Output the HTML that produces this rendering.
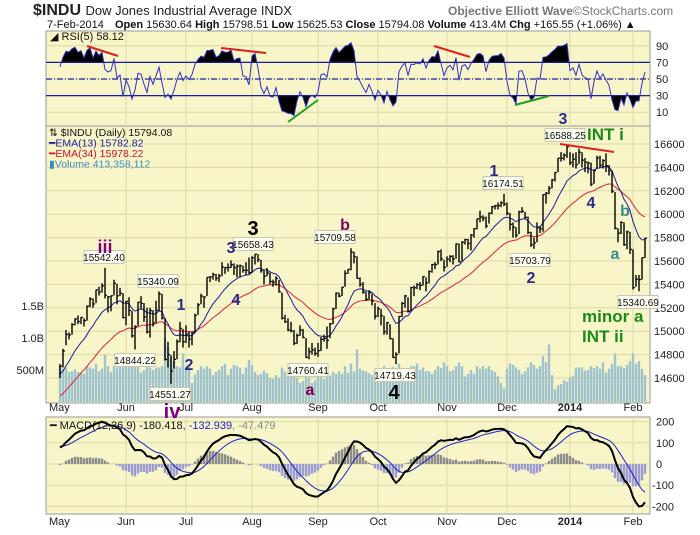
<!DOCTYPE html>
<html><head><meta charset="utf-8">
<style>
body{margin:0;background:#fff;width:700px;height:530px;overflow:hidden;font-family:"Liberation Sans",sans-serif}
svg text{font-family:"Liberation Sans",sans-serif}
</style></head>
<body>
<svg id="chart" width="700" height="530" viewBox="0 0 700 530" xmlns="http://www.w3.org/2000/svg">
<g>
<text x="33" y="15" font-size="16" font-weight="bold" fill="#222">$INDU <tspan font-size="13" font-weight="normal">Dow Jones Industrial Average INDX</tspan></text>
<text x="448" y="15" font-size="12" font-weight="bold" fill="#777">Objective Elliott Wave<tspan font-weight="normal">©StockCharts.com</tspan></text>
<text x="47" y="28" font-size="11" fill="#111">7-Feb-2014 <tspan dx="8" font-weight="bold">Open</tspan> 15630.64 <tspan font-weight="bold">High</tspan> 15798.51 <tspan font-weight="bold">Low</tspan> 15625.53 <tspan font-weight="bold">Close</tspan> 15794.08 <tspan font-weight="bold">Volume</tspan> 413.4M <tspan font-weight="bold">Chg</tspan> +165.55 (+1.06%) ▲</text>
</g>
<rect x="46" y="31" width="604" height="95" fill="#f8f6c8" stroke="#999"/>
<rect x="46" y="126" width="604" height="277" fill="#f8f6c8" stroke="#999"/>
<rect x="46" y="417" width="604" height="97" fill="#f8f6c8" stroke="#999"/>
<g id="grid"></g>
<g id="rsi"></g>
<g id="vol"></g>
<g id="price"></g>
<g id="macd"></g>
<g id="axes"></g>
<g id="ann" font-weight="bold"></g>
</svg>
<script>
const NS="http://www.w3.org/2000/svg";
const closes=[14700,14831,14973,14968,15056,15105,15083,15118,15091,15215,15275,15233,15354,15335,15388,15307,15294,15303,15409,15302,15324,15116,
15254,15177,14960,15040,15248,15238,15122,14995,15176,15070,15179,15318,15112,14758,14800,14660,14760,14910,15024,14910,
14975,14932,14988,15135,15225,15300,15292,15461,15464,15484,15452,15471,15548,15543,15545,15567,15543,15556,15559,15521,15520,15500,
15628,15658,15612,15518,15470,15498,15425,15419,15451,15337,15112,15081,15010,15002,14897,14963,15010,14946,14776,14824,14840,14810,
14834,14930,14938,14922,15063,15191,15326,15300,15376,15494,15529,15676,15636,15451,15401,15334,15273,15328,15258,15129,
15191,15133,14996,15072,14936,14776,14802,15126,15237,15301,15168,15373,15371,15399,15392,15467,15413,15509,15570,15568,15680,15618,15545,
15615,15639,15618,15746,15593,15761,15783,15750,15821,15876,15961,15976,15967,15900,16009,16064,16072,16073,16097,16086,
16008,15914,15889,15821,16020,16025,15973,15844,15739,15755,15884,15875,16167,16179,16221,16294,16357,16479,16478,16504,16577,
16441,16469,16425,16530,16462,16444,16437,16257,16374,16481,16418,16459,16414,16373,16197,15879,15838,15929,15739,15849,15699,
15373,15445,15441,15628,15794];
const highs=[14720,14850,15010,14990,15070,15110,15135,15120,15110,15220,15290,15280,15355,15380,15410,15542,15300,15305,15440,15405,15370,15325,
15260,15290,15175,15050,15250,15300,15240,15200,15200,15180,15260,15340,15320,15110,14910,14795,14830,14930,15080,15020,
15050,15000,14995,15150,15240,15320,15300,15461,15470,15500,15490,15490,15590,15550,15580,15605,15580,15570,15570,15560,15590,15630,
15640,15658,15658,15610,15520,15540,15500,15440,15470,15440,15330,15140,15110,15080,15010,14980,15050,15020,14940,14860,14900,14860,
14900,14950,14970,15040,15070,15200,15330,15330,15380,15520,15530,15709,15680,15640,15460,15420,15340,15350,15320,15240,
15210,15190,15130,15080,15060,14940,14820,15130,15250,15310,15290,15380,15390,15410,15420,15470,15460,15520,15575,15590,15690,15700,15610,
15640,15650,15650,15750,15750,15770,15790,15790,15830,15880,15961,16030,15990,15980,16015,16070,16080,16100,16110,16174,
16100,16010,15930,15890,16030,16060,16020,15980,15850,15800,15930,15900,16170,16190,16240,16300,16360,16480,16530,16520,16588,
16530,16520,16530,16560,16530,16480,16450,16440,16380,16500,16500,16470,16520,16420,16370,16190,15880,15940,15930,15860,15850,
15700,15480,15480,15630,15799];
const lows=[14600,14690,14880,14930,14970,15050,15060,15060,15040,15090,15205,15200,15240,15305,15330,15280,15160,15170,15305,15230,15300,15110,
15050,15130,14945,14844,15045,15190,15080,14980,14945,15040,15070,15170,15100,14750,14690,14551,14680,14760,14905,14860,
14900,14860,14880,14990,15140,15230,15200,15300,15420,15440,15430,15420,15470,15490,15510,15540,15480,15460,15460,15500,15480,15490,
15500,15570,15590,15500,15400,15470,15400,15380,15390,15330,15100,15070,15000,14990,14880,14890,14960,14940,14770,14760,14800,14790,
14780,14830,14910,14850,14940,15060,15190,15290,15300,15380,15490,15520,15580,15450,15380,15320,15260,15270,15220,15100,
15120,15050,14970,14970,14930,14770,14719,14810,15120,15200,15160,15170,15300,15360,15350,15390,15340,15410,15500,15530,15570,15600,15510,
15550,15590,15570,15620,15590,15600,15740,15700,15690,15800,15870,15930,15940,15880,15920,16000,16040,16040,16060,16070,
15990,15860,15800,15800,15830,16010,15960,15830,15720,15704,15760,15840,15850,16090,16170,16220,16280,16360,16450,16460,16480,
16420,16400,16390,16430,16400,16360,16350,16240,16260,16390,16400,16390,16360,16330,16180,15870,15760,15830,15730,15700,15660,
15356,15380,15341,15440,15626];
const volumes=[560,520,540,470,480,510,470,460,440,560,540,520,600,480,520,740,560,470,560,540,560,610,
580,560,600,620,560,460,500,560,540,500,540,540,560,1000,860,700,640,560,540,760,
540,560,300,430,500,560,520,560,520,420,470,500,560,600,420,520,580,560,540,440,540,660,
580,470,420,440,490,450,380,360,420,380,540,480,400,400,440,380,300,330,460,380,300,340,
460,440,360,460,410,470,440,480,440,560,460,600,480,820,520,490,480,450,420,480,
520,480,560,480,530,550,500,600,460,370,470,560,560,600,500,540,480,480,440,500,560,530,620,
560,480,500,560,620,560,400,440,500,440,560,520,560,520,560,500,470,400,300,210,
520,600,580,540,500,440,480,540,620,580,520,560,720,620,900,420,200,260,280,340,320,
380,410,540,540,540,490,500,560,530,560,520,620,460,520,600,760,560,560,530,580,640,
760,600,640,520,420];
const monthLabels=["May","Jun","Jul","Aug","Sep","Oct","Nov","Dec","2014","Feb"];
const monthStart=[0,22,42,64,86,106,129,149,170,191];
const priceTicks=[14600,14800,15000,15200,15400,15600,15800,16000,16200,16400,16600];
const volTicks=[500,1000,1500];
const volTickLabels=["500M","1.0B","1.5B"];
const rsiTicks=[10,30,50,70,90];
const macdTicks=[-200,-100,0,100,200];

const xi=i=>60+i*3.0;
const py=p=>144+(16600-p)*0.117;
const vy=v=>402-v*0.064;
const ry=v=>79-(v-50)*0.83;
const my=v=>464-v*0.212;
function mk(tag,attrs,parent){const e=document.createElementNS(NS,tag);for(const k in attrs)e.setAttribute(k,attrs[k]);document.getElementById(parent).appendChild(e);return e;}
function txt(parent,x,y,s,attrs){const e=mk("text",Object.assign({x:x,y:y},attrs||{}),parent);e.textContent=s;return e;}

monthStart.forEach((m,k)=>{
  [[31,126],[126,403],[417,514]].forEach(r=>{
    if(k>0){const l=mk("line",{x1:xi(m),x2:xi(m),y1:r[0],y2:r[1],stroke:"#dcd9a8"},"grid");
    
    }
  });
  [411,525].forEach(yy=>{
    const t=txt("axes",k==0?49:xi(m),yy,monthLabels[k],{"font-size":"11","fill":"#222","text-anchor":k==0?"start":"middle","font-weight":monthLabels[k]=="2014"?"bold":"normal"});
    
    
  });
});
priceTicks.forEach(p=>{
  const l=mk("line",{x1:46,x2:650,y1:py(p),y2:py(p),stroke:"#dcd9a8"},"grid");
  
  
  const t=txt("axes",654,py(p)+4,String(p),{"font-size":"11","fill":"#222"});
  
  
});
volTicks.forEach((v,k)=>{
  const t=txt("axes",44,vy(v)+4,volTickLabels[k],{"font-size":"11","fill":"#222","text-anchor":"end"});
  
  
});
rsiTicks.forEach(v=>{
  const l=mk("line",{x1:46,x2:650,y1:ry(v),y2:ry(v),stroke:"#dcd9a8"},"grid");
  
  
  const t=txt("axes",656,ry(v)+4,String(v),{"font-size":"11","fill":"#222"});
  
  
});
macdTicks.forEach(v=>{
  const l=mk("line",{x1:46,x2:650,y1:my(v),y2:my(v),stroke:"#dcd9a8"},"grid");
  
  
  const t=txt("axes",v<0?652:656,my(v)+4,String(v),{"font-size":"11","fill":"#222"});
  
  
});

volumes.forEach((v,i)=>{
  const r=mk("rect",{x:xi(i)-1.2,y:vy(v),width:2.4,height:402-vy(v),fill:"#9fc3cf"},"vol");
  
  
});

function ema(arr,n,seed){const k=2/(n+1);let e=seed;return arr.map(c=>(e=c*k+e*(1-k)));}
const e13=ema(closes,13,14620), e34=ema(closes,34,14430);
function poly(arr,f,parent,stroke,w,name){
  const p=mk("polyline",{points:arr.map((v,i)=>xi(i)+","+f(v)).join(" "),fill:"none",stroke:stroke,"stroke-width":w},parent);
  
  
  return p;
}
poly(e34,py,"price","#e0203c",1,"ema34-line");
poly(e13,py,"price","#1c1c9c",1,"ema13-line");
closes.forEach((c,i)=>{
  const l=mk("line",{x1:xi(i),x2:xi(i),y1:py(highs[i]),y2:py(lows[i]),stroke:"#000","stroke-width":1.4},"price");
  
  
  const t=mk("line",{x1:xi(i),x2:xi(i)+2,y1:py(c),y2:py(c),stroke:"#000","stroke-width":1.2},"price");
  
  
});

let ag=40,al=30,prev=14640;const rsi=closes.map(c=>{const d=c-prev;prev=c;ag=(ag*4+Math.max(d,0))/5;al=(al*4+Math.max(-d,0))/5;return 100-100/(1+ag/(al||1e-6));});
const c1=mk("clipPath",{id:"above70"},"rsi");c1.appendChild(document.createElementNS(NS,"rect"));
c1.firstChild.setAttribute("x",46);c1.firstChild.setAttribute("y",31);c1.firstChild.setAttribute("width",604);c1.firstChild.setAttribute("height",ry(70)-31);
const c2=mk("clipPath",{id:"below30"},"rsi");c2.appendChild(document.createElementNS(NS,"rect"));
c2.firstChild.setAttribute("x",46);c2.firstChild.setAttribute("y",ry(30));c2.firstChild.setAttribute("width",604);c2.firstChild.setAttribute("height",126-ry(30));
const pts=rsi.map((v,i)=>xi(i)+","+ry(v)).join(" ");
const f1=mk("polygon",{points:xi(0)+","+ry(70)+" "+pts+" "+xi(rsi.length-1)+","+ry(70),fill:"#000","clip-path":"url(#above70)"},"rsi");


const f2=mk("polygon",{points:xi(0)+","+ry(30)+" "+pts+" "+xi(rsi.length-1)+","+ry(30),fill:"#000","clip-path":"url(#below30)"},"rsi");


[[70,""],[30,""],[50,"6,2,1,2"]].forEach(a=>{
  const l=mk("line",{x1:46,x2:650,y1:ry(a[0]),y2:ry(a[0]),stroke:"#1c1c9c","stroke-width":1.3,"stroke-dasharray":a[1]},"rsi");
  
  
});
poly(rsi,ry,"rsi","#3030c8",1,"rsi-line");
[[87,46,118,56,"#e02020"],[221,48,266,53,"#e02020"],[434,46,470,57,"#e02020"],[288,122,318,100,"#20a020"],[515,105,549,96,"#20a020"],[560,144,614,152,"#e02020"]].forEach(a=>{
  const l=mk("line",{x1:a[0],y1:a[1],x2:a[2],y2:a[3],stroke:a[4],"stroke-width":2},"ann");
  
  
});
const rl=txt("rsi",50,40,"◢ RSI(5) 58.12",{"font-size":"11","fill":"#111"});



const m12=ema(closes,12,14650),m26=ema(closes,26,14570);
const macd=m12.map((v,i)=>v-m26[i]);const sig=ema(macd,9,85);
macd.forEach((v,i)=>{const h=v-sig[i];
  const r=mk("rect",{x:xi(i)-1.2,y:Math.min(my(h),my(0)),width:2.4,height:Math.abs(my(h)-my(0)),fill:h>=0?"#8c8c8c":"#9c9cd4"},"macd");
  
  
});
poly(sig,my,"macd","#2020d0",1,"macd-signal-line");
poly(macd,my,"macd","#000",2,"macd-line");
const ml=txt("macd",50,429,"",{"font-size":"11","fill":"#111"});


ml.innerHTML='━ MACD(12,26,9) -180.418<tspan fill="#2020d0">, -132.939</tspan><tspan fill="#888">, -47.479</tspan>';

const lg=[["⇅ $INDU (Daily) 15794.08","#111"],["━EMA(13) 15782.82","#1c1c9c"],["━EMA(34) 15978.22","#d0102c"],["▮Volume 413,358,112","#3a8ac0"]];
lg.forEach((a,k)=>{const t=txt("price",49,136+k*10.5,a[0],{"font-size":"10.5","fill":a[1]});});

const boxes=[["15542.40",104,257],["15340.09",158,281],["14844.22",135,360],["14551.27",170,394],["15658.43",253,244],["14760.41",308,370],["15709.58",335,237],["14719.43",395,375],["16174.51",503,183],["15703.79",530,260],["16588.25",565,135],["15340.69",638,302]];
boxes.forEach(b=>{
  const r=mk("rect",{x:b[1]-20,y:b[2]-6.5,width:40,height:13,fill:"#fdfdf2",stroke:"#c8c8b0"},"ann");
  
  
  const t=txt("ann",b[1],b[2]+4,b[0],{"font-size":"10","fill":"#111","font-weight":"normal","text-anchor":"middle"});
  
  
});
const labs=[["iii",105,253,18,"#800080"],["iv",172,418,20,"#800080"],["1",181,310,16,"#2a2a8a"],["2",189,370,16,"#2a2a8a"],["3",231,253,16,"#2a2a8a"],["3",253,235,20,"#000"],["4",236,305,16,"#2a2a8a"],["a",310,395,16,"#800050"],["b",345,230,16,"#800050"],["4",394,399,20,"#000"],["1",494,176,16,"#2a2a8a"],["2",531,283,16,"#2a2a8a"],["3",563,124,16,"#2a2a8a"],["4",591,208,16,"#2a2a8a"],["b",625,216,16,"#3a8a8a"],["a",615,259,16,"#3a8a8a"]];
labs.forEach(a=>{const t=txt("ann",a[1],a[2],a[0],{"font-size":a[3],"fill":a[4],"text-anchor":"middle"});});
[["INT i",587,140],["minor a",582,322],["INT ii",582,342]].forEach(a=>{const t=txt("ann",a[1],a[2],a[0],{"font-size":"17","fill":"#1a8a1a"});});
</script>
</body></html>
